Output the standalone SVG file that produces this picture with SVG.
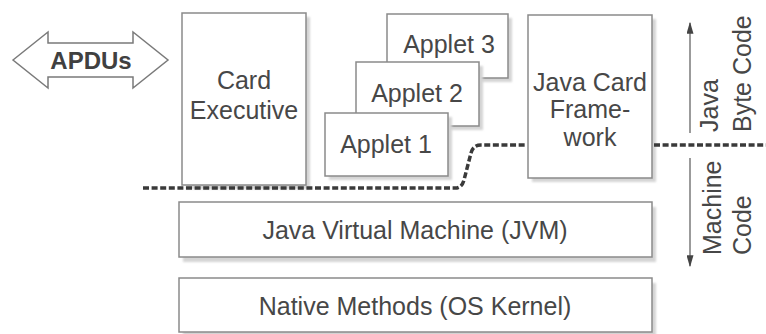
<svg xmlns="http://www.w3.org/2000/svg" width="766" height="334" viewBox="0 0 766 334">
<style>
.box{fill:#fff;stroke:#8a8a8a;stroke-width:1.5}
.sh{fill:#d4d4d4;filter:url(#blur)}
.t{font-family:"Liberation Sans",Arial,sans-serif;font-size:25px;fill:#474747;text-anchor:middle}
.rt{font-family:"Liberation Sans",Arial,sans-serif;font-size:25px;fill:#474747;text-anchor:start}
.dot{fill:none;stroke:#3a3a3a;stroke-width:3.5;stroke-dasharray:6 2.6}
.ax{stroke:#7a7a7a;stroke-width:1.5;fill:none}
</style>
<defs>
<filter id="blur" x="-10%" y="-10%" width="120%" height="120%"><feGaussianBlur stdDeviation="1.2"/></filter>
<marker id="ah" viewBox="0 0 10 10" refX="9" refY="5" markerWidth="12" markerHeight="7" orient="auto" markerUnits="userSpaceOnUse" preserveAspectRatio="none">
<path d="M0,0 L10,5 L0,10 z" fill="#444"/>
</marker>
</defs>
<rect width="766" height="334" fill="#fff"/>

<g id="apdus">
<polygon points="13,60 48,32 48,43 133,43 133,32 168,60 133,88 133,77 48,77 48,88" fill="#fff" stroke="#7a7a7a" stroke-width="1.5"/>
<text class="t" x="91" y="69" style="font-weight:bold;font-size:24px;fill:#404040">APDUs</text>
</g>

<g id="card-executive">
<rect class="sh" x="186" y="17" width="124" height="172"/>
<rect class="box" x="182" y="13" width="124" height="172"/>
<text class="t" x="244" y="89">Card</text>
<text class="t" x="244" y="119">Executive</text>
</g>

<g id="applet3">
<rect class="sh" x="391" y="18" width="121" height="64"/>
<rect class="box" x="387" y="14" width="121" height="64"/>
<text class="t" x="449" y="53">Applet 3</text>
</g>

<g id="applet2">
<rect class="sh" x="360" y="66" width="123" height="64"/>
<rect class="box" x="356" y="62" width="123" height="64"/>
<text class="t" x="417" y="102">Applet 2</text>
</g>

<g id="applet1">
<rect class="sh" x="329" y="117" width="123" height="63"/>
<rect class="box" x="325" y="113" width="123" height="63"/>
<text class="t" x="386" y="153">Applet 1</text>
</g>

<g id="java-card-framework">
<rect class="sh" x="532" y="19" width="124" height="163"/>
<rect class="box" x="528" y="15" width="124" height="163"/>
<text class="t" x="590" y="91">Java Card</text>
<text class="t" x="590" y="118">Frame-</text>
<text class="t" x="590" y="146">work</text>
</g>

<g id="jvm">
<rect class="sh" x="183" y="207" width="473" height="55"/>
<rect class="box" x="179" y="202" width="473" height="55"/>
<text class="t" x="415" y="239">Java Virtual Machine (JVM)</text>
</g>

<g id="native-methods">
<rect class="sh" x="183" y="283" width="473" height="54"/>
<rect class="box" x="179" y="278" width="473" height="54"/>
<text class="t" x="415" y="315">Native Methods (OS Kernel)</text>
</g>

<g id="connectors">
<path class="dot" d="M143,188 L455,188 Q462,188 464,180 L471,153 Q473,145 481,145 L527,145"/>
<path class="dot" d="M654,145 L766,145"/>
<line class="ax" x1="690" y1="133" x2="690" y2="23" marker-end="url(#ah)"/>
<line class="ax" x1="690" y1="158" x2="690" y2="266" marker-end="url(#ah)"/>
</g>

<g id="labels">
<text class="rt" transform="translate(718,132) rotate(-90)">Java</text>
<text class="rt" transform="translate(751,132) rotate(-90)">Byte Code</text>
<text class="rt" transform="translate(721,255) rotate(-90)">Machine</text>
<text class="rt" transform="translate(751,255) rotate(-90)">Code</text>
</g>
</svg>
